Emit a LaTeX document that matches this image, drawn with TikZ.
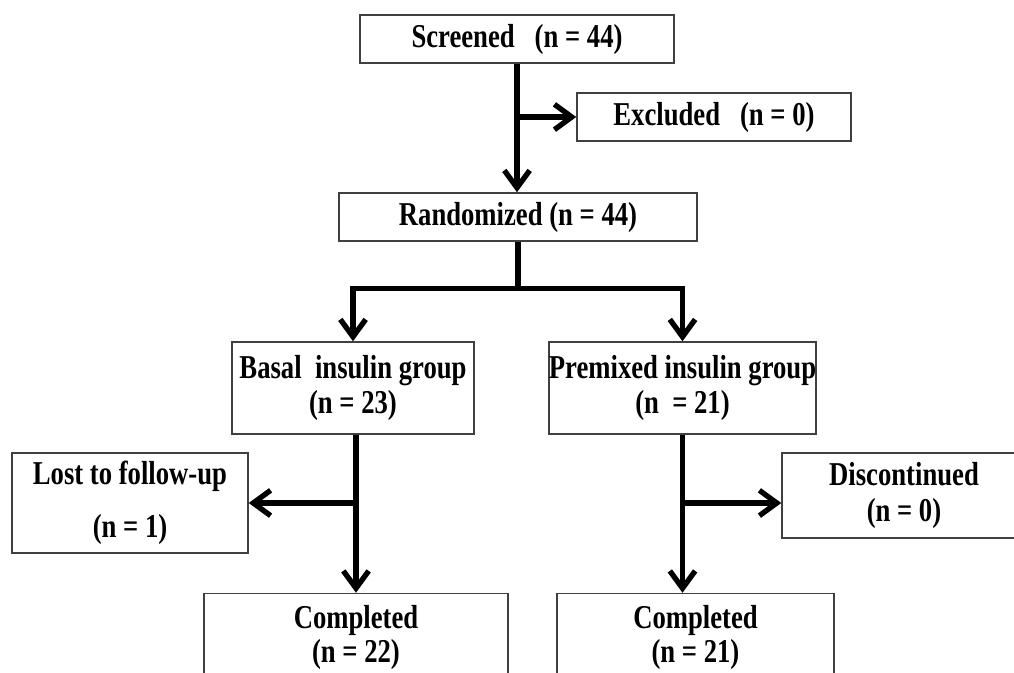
\documentclass[tikz,border=0pt]{standalone}
\usepackage{fontspec}
\setmainfont{Liberation Serif}[FakeStretch=0.8]
\usetikzlibrary{arrows.meta}

\begin{document}
\begin{tikzpicture}[x=0.75pt,y=-0.75pt,
        box/.style={draw=black!75,line width=1.1pt,inner sep=0pt,align=center,
            font=\fontsize{25}{26.5}\selectfont\bfseries},
        link/.style={line width=4pt},
        arrow/.style={link,-{Straight Barb[length=13pt,width=19pt]}}]
                    \useasboundingbox (0,0) rectangle (1014,673);

                    \node[box,minimum width=235.5pt,minimum height=36pt] (screened) at (517,39) {Screened~~~(n = 44)};
                    \node[box,minimum width=205.5pt,minimum height=36pt] (excluded) at (714,117) {Excluded~~~(n = 0)};
                    \node[box,minimum width=268.5pt,minimum height=36pt] (randomized) at (518,217) {Randomized (n = 44)};
                    \node[box,minimum width=181.5pt,minimum height=69pt] (basal) at (353,388) {Basal~~insulin group\\(n = 23)};
                    \node[box,minimum width=200pt,minimum height=69pt] (premixed) at (682.5,388) {Premixed insulin group\\(n~~= 21)};
                    \node[box,minimum width=177pt,minimum height=75pt] (lost) at (130,503) {Lost to follow-up\\[13pt](n = 1)};
                    \node[box,minimum width=183pt,minimum height=63.75pt] (discont) at (904,495.5) {Discontinued\\(n = 0)};
                    \node[box,minimum width=228pt,minimum height=65.25pt] (completedL) at (356,637) {Completed\\[-1pt](n = 22)};
                    \node[box,minimum width=207.75pt,minimum height=65.25pt] (completedR) at (695.5,637) {Completed\\[-1pt](n = 21)};

                    \path (randomized.south) ++(0,47) coordinate (split);

                    \draw[arrow] (screened.south) -- (screened.south |- randomized.north);
                    \draw[arrow] (screened.south |- excluded.west) -- (excluded.west);
                    \draw[link] (randomized.south) -- (split);
                    \draw[arrow] (split) -| (basal.north);
                    \draw[arrow] (split) -| (premixed.north);
                    \draw[arrow] (completedL.north |- basal.south) -- (completedL.north);
                    \draw[arrow] (completedL.north |- lost.east) -- (lost.east);
                    \draw[arrow] (premixed.south) -- (premixed.south |- completedR.north);
                    \draw[arrow] (premixed.south |- lost.east) -- (discont.west |- lost.east);

                \end{tikzpicture}
\end{document}
